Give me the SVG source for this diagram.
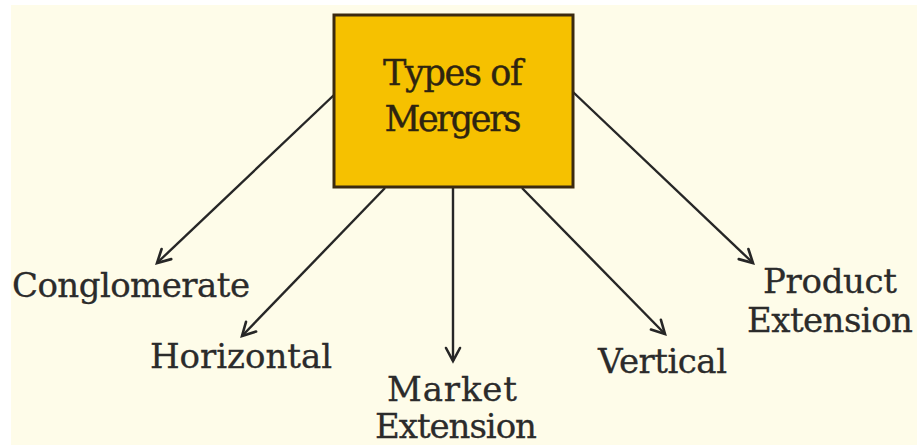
<svg xmlns="http://www.w3.org/2000/svg" width="917" height="445" viewBox="0 0 917 445">
  <style>
    .lbl { font-family: "DejaVu Serif", "Liberation Serif", serif; font-size: 34px; fill: #2b2b2b; stroke: #2b2b2b; stroke-width: 0.3; }
    .ttl { font-family: "DejaVu Serif", "Liberation Serif", serif; font-size: 35px; fill: #2e2410; stroke: #2e2410; stroke-width: 0.4; text-anchor: middle; }
    .conn { stroke: #262626; stroke-width: 2.4; fill: none; marker-end: url(#arr); }
  </style>
  <defs>
    <marker id="arr" markerUnits="userSpaceOnUse" markerWidth="20" markerHeight="20" viewBox="-16 -10 20 20" refX="0" refY="0" orient="auto">
      <path d="M-13,-7 L0,0 L-13,7" fill="none" stroke="#262626" stroke-width="2.6" stroke-linecap="round" stroke-linejoin="miter"/>
    </marker>
  </defs>
  <rect x="0" y="0" width="917" height="445" fill="#ffffff"/>
  <rect x="11" y="5" width="906" height="440" fill="#fefce9"/>

  <g id="connectors">
    <line class="conn" x1="334" y1="95" x2="157" y2="263"/>
    <line class="conn" x1="385" y1="188" x2="242" y2="336"/>
    <line class="conn" x1="453" y1="188" x2="453" y2="361"/>
    <line class="conn" x1="522" y1="188" x2="665" y2="334"/>
    <line class="conn" x1="573" y1="92" x2="753" y2="263"/>
  </g>

  <g id="types-of-mergers">
    <rect x="334" y="15" width="239" height="172" fill="#f6c100" stroke="#3b2a10" stroke-width="3"/>
    <text class="ttl" x="453" y="85" textLength="140">Types of</text>
    <text class="ttl" x="453" y="131" textLength="137">Mergers</text>
  </g>

  <g id="conglomerate">
    <text class="lbl" x="12" y="297" textLength="238">Conglomerate</text>
  </g>
  <g id="horizontal">
    <text class="lbl" x="150" y="368" textLength="182">Horizontal</text>
  </g>
  <g id="market-extension">
    <text class="lbl" x="387" y="401" font-size="31" textLength="130">Market</text>
    <text class="lbl" x="375" y="438" font-size="31" textLength="162">Extension</text>
  </g>
  <g id="vertical">
    <text class="lbl" x="598" y="373" textLength="129">Vertical</text>
  </g>
  <g id="product-extension">
    <text class="lbl" x="763" y="293" textLength="134">Product</text>
    <text class="lbl" x="747" y="332" textLength="166">Extension</text>
  </g>
</svg>
